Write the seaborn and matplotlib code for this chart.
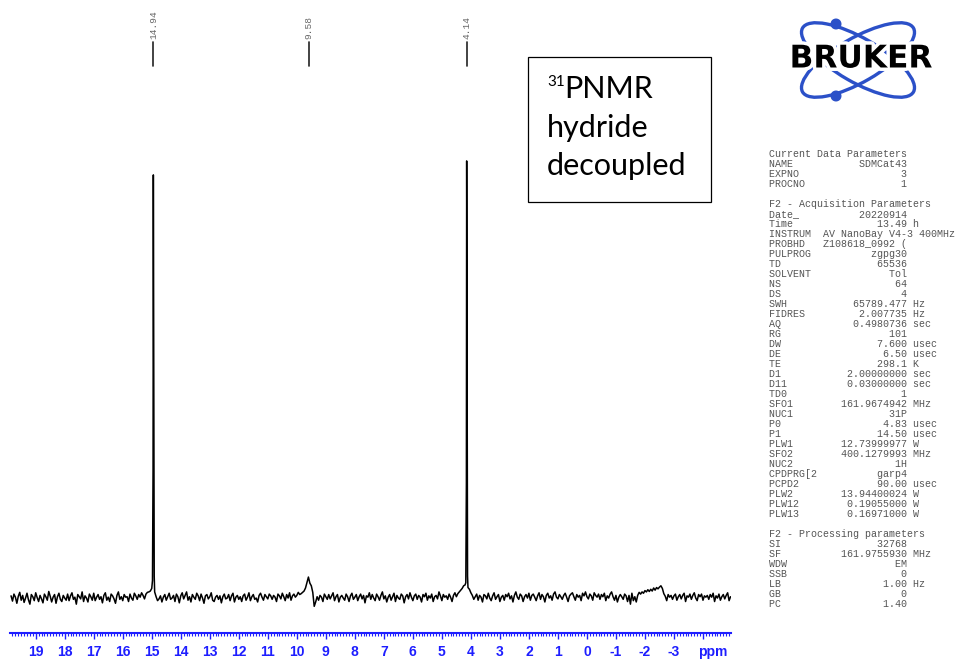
import numpy as np
import pandas as pd
import seaborn as sns
import matplotlib.pyplot as plt
import matplotlib.patheffects as pe
from matplotlib import transforms
from matplotlib.patches import Ellipse, Circle, Rectangle

# baseline of the 31P spectrum, one value every 0.05 ppm from 19.85 ppm downwards
ppm_start = 19.85
ppm_step = 0.05
baseline = [
    0.5, -0.7, 0.9, 0.2, -1.2, 0.4, 1.3, -0.5, 0.6, -1.0, 0.0, 1.1, -0.4, -1.4, 0.8, 0.3, -0.6, 1.2, 0.1, -0.8,
    0.6, -0.2, -1.1, 0.9, 0.3, -0.5, 1.5, 0.4, -0.9, 0.2, 0.8, -1.2, 0.3, 1.1, -0.3, -0.8, 0.6, 0.0, -0.5, 0.9,
    -0.6, 0.5, 1.2, -0.3, 0.2, -1.4, 0.8, 0.3, -0.2, 1.4, -0.8, 0.5, 0.0, -0.9, 0.9, 0.3, -0.5, 1.1, -0.6, 0.2,
    0.8, -0.3, 0.3, -1.1, 0.6, 1.2, -0.5, 0.2, -0.8, 0.9, 0.5, -0.2, -1.2, 0.6, 1.4, -0.3, 0.3, -0.6, 0.8, 0.2,
    0.3, -0.8, 0.9, 0.0, -0.5, 1.1, 0.5, -0.3, 0.8, 0.2, 1.2, 0.6, -0.2, 0.9, 1.3, 1.4, 1.6, 2.2, 0.0, 1.4,
    0.3, -0.6, -0.2, 0.5, -0.9, 0.2, 0.8, -0.5, 0.3, 1.1, -0.3, 0.0, 0.6, -0.8, 0.9, 0.3, -1.1, 0.5, 1.2, -0.2,
    0.6, 1.4, -0.5, 0.3, -0.9, 0.8, 0.2, -0.3, 1.1, 0.5, -0.6, 0.9, 0.0, -1.2, 0.5, 0.8, -0.2, 0.3, 1.2, -0.5,
    -0.8, 0.2, 0.6, -0.3, 0.5, -1.1, 0.3, 0.9, -0.2, 0.0, 0.8, -0.6, 0.5, 1.1, -0.9, 0.2, 0.6, -0.3, 0.3, -0.8,
    0.5, 0.9, -0.5, 0.2, 1.2, -0.6, 0.3, 0.8, -0.3, 0.0, -0.9, 0.6, 1.1, 0.2, -0.5, 0.8, 0.3, -0.2, 0.9, 0.5,
    -0.3, 0.6, 0.2, -0.8, 0.9, 0.5, -0.2, 1.1, 0.3, -0.6, 0.8, 0.0, 1.2, -0.5, 0.5, 0.9, 0.2, 0.6, 1.3, 0.8,
    1.0, 1.3, 1.6, 2.3, 3.6, 4.8, 3.4, 2.8, 1.3, -1.9, -0.9, 0.3, -0.5, 0.6, 0.2, -0.8, 0.9, 0.3, -0.3, 0.8,
    -0.2, 0.5, 1.2, -0.6, 0.3, 0.8, -0.9, 0.2, 0.6, 0.0, -0.5, 0.9, 0.3, -0.8, 0.5, 1.1, -0.3, 0.2, 0.8, -0.6,
    0.3, 0.9, -0.2, 0.6, -1.1, 0.5, 0.2, 1.2, -0.3, 0.8, 0.0, -0.6, 0.9, 0.3, -0.5, 0.6, 1.4, -0.2, 0.5, -0.9,
    0.2, 0.8, -0.5, 0.3, 1.1, -0.8, 0.6, 0.0, -0.3, 0.9, 0.5, -1.1, 0.3, 0.8, -0.2, 1.2, 0.2, -0.6, 0.5, 0.9,
    -0.3, 0.6, 0.2, -0.9, 0.8, 0.3, 1.1, -0.5, 0.5, 0.0, 0.9, -0.8, 0.3, 0.6, -0.2, 1.4, 0.5, -0.6, 0.8, 0.2,
    0.5, -0.3, 0.9, 0.2, -0.8, 0.6, 1.2, 0.3, 1.0, 1.4, 1.8, 2.2, 2.8, 3.0, 0.0, 2.4, 2.0, 1.2, 0.6, -0.3,
    0.3, 0.9, -0.5, 0.6, 0.2, -0.9, 0.8, 0.5, -0.2, 1.1, 0.0, -0.6, 0.5, 1.2, -0.3, 0.3, 0.8, -0.8, 0.2, 0.6,
    -0.5, 0.8, 0.3, 1.1, -0.2, 0.5, -0.9, 0.6, 1.4, 0.2, -0.3, 0.9, 0.5, -0.8, 0.3, 0.8, 0.0, 1.1, -0.5, 0.6,
    0.9, 0.2, -0.6, 0.5, 1.2, -0.3, 0.8, 0.3, -0.9, 0.6, 1.1, 0.0, 0.5, -0.5, 0.9, 1.4, 0.2, -0.2, 0.8, 0.3,
    -0.3, 0.6, 1.1, 0.2, -0.8, 0.5, 0.9, 1.2, 0.3, -0.5, 0.8, 0.2, 0.6, -0.6, 1.1, 0.5, 1.4, 0.3, -0.2, 0.9,
    0.5, -0.5, 1.2, 0.6, 0.2, 0.9, -0.3, 0.8, 0.3, 1.1, -0.6, 0.5, 0.0, 0.9, 1.4, 0.3, -0.5, 0.6, -0.9, 0.2,
    0.8, 0.3, -0.3, 0.9, 0.5, -0.8, 0.6, -1.4, 1.1, -0.6, 0.3, -0.9, 0.6, 1.3, 0.9, 1.4, 1.1, 1.7, 1.4, 1.9,
    1.5, 2.0, 1.6, 2.3, 1.8, 2.4, 2.1, 2.5, 2.8, 2.2, 1.0, 0.4, -0.6, 0.8, 0.2, 0.6, -0.3, 0.5, 0.9, -0.5,
    0.3, 0.8, -0.2, 0.6, 1.1, -0.8, 0.5, 0.2, 0.9, -0.3, 0.6, 1.2, 0.0, -0.6, 0.8, 0.3, 0.9, -0.5, 0.5, 0.2,
    0.6, -0.3, 0.8, 0.2, 1.1, -0.8, 0.5, 0.0, 0.9, -0.5, 0.3, 0.8, -0.2, 0.6, 1.2, -0.6, 0.3,
]

# the two sharp signals, sampled finer than the baseline
peak_centers = [14.94, 4.14]
peak_ppm = [14.975, 14.955, 14.945, 14.935, 14.915,
            4.175, 4.155, 4.145, 4.135, 4.115]
peak_int = [4.0, 29.3, 96.8, 64.8, 5.0,
            3.5, 26.3, 100.0, 68.2, 5.0]

# peak picking labels
label_ppm = [14.94, 9.58, 4.14]
label_text = ['14.94', '9.58', '4.14']

tick_values = list(range(19, -5, -1))
tick_labels = [str(v) for v in range(19, -4, -1)] + ['']

# Bruker parameter listing
current_params = [('NAME', 'SDMCat43', ''), ('EXPNO', '3', ''), ('PROCNO', '1', '')]
acq_params = [
    ('Date_', '20220914', ''), ('Time', '13.49', 'h'), ('INSTRUM', 'AV NanoBay V4-3 400MHz', ''),
    ('PROBHD', 'Z108618_0992 (', ''), ('PULPROG', 'zgpg30', ''), ('TD', '65536', ''),
    ('SOLVENT', 'Tol', ''), ('NS', '64', ''), ('DS', '4', ''), ('SWH', '65789.477', 'Hz'),
    ('FIDRES', '2.007735', 'Hz'), ('AQ', '0.4980736', 'sec'), ('RG', '101', ''),
    ('DW', '7.600', 'usec'), ('DE', '6.50', 'usec'), ('TE', '298.1', 'K'),
    ('D1', '2.00000000', 'sec'), ('D11', '0.03000000', 'sec'), ('TD0', '1', ''),
    ('SFO1', '161.9674942', 'MHz'), ('NUC1', '31P', ''), ('P0', '4.83', 'usec'),
    ('P1', '14.50', 'usec'), ('PLW1', '12.73999977', 'W'), ('SFO2', '400.1279993', 'MHz'),
    ('NUC2', '1H', ''), ('CPDPRG[2', 'garp4', ''), ('PCPD2', '90.00', 'usec'),
    ('PLW2', '13.94400024', 'W'), ('PLW12', '0.19055000', 'W'), ('PLW13', '0.16971000', 'W'),
]
proc_params = [('SI', '32768', ''), ('SF', '161.9755930', 'MHz'), ('WDW', 'EM', ''),
               ('SSB', '0', ''), ('LB', '1.00', 'Hz'), ('GB', '0', ''), ('PC', '1.40', '')]


def param_line(name, value, unit):
    line = f'{name:<9}{value:>14}'
    if unit:
        line += ' ' + unit
    return line


sns.set_style('white')
plt.rcParams['font.family'] = ['Liberation Sans', 'DejaVu Sans']
plt.rcParams['axes.unicode_minus'] = False

# build the spectrum table
grid_ppm = ppm_start - ppm_step * np.arange(len(baseline))
keep = np.all([np.abs(grid_ppm - c) > 0.035 for c in peak_centers], axis=0)
df = pd.concat([
    pd.DataFrame({'ppm': grid_ppm[keep], 'intensity': np.array(baseline)[keep]}),
    pd.DataFrame({'ppm': peak_ppm, 'intensity': peak_int}),
]).sort_values('ppm', ascending=False)

W, H = 955, 659
fig = plt.figure(figsize=(W / 100, H / 100), dpi=100)
ax = fig.add_axes([10 / W, (H - 633) / H, (731 - 10) / W, (633 - 150) / H])
sns.lineplot(data=df, x='ppm', y='intensity', sort=False, estimator=None,
             color='black', linewidth=1.1, ax=ax)
ax.set_xlim(19.886, -4.966)
ax.set_ylim(-8.0, 102.5)
ax.set_xlabel('')
ax.set_ylabel('')
ax.set_yticks([])
for side in ['left', 'top', 'right']:
    ax.spines[side].set_visible(False)
blue = '#1e1eff'
ax.spines['bottom'].set_color(blue)
ax.spines['bottom'].set_linewidth(1.5)
ax.set_xticks(tick_values)
ax.set_xticklabels(tick_labels)
ax.xaxis.set_minor_locator(plt.MultipleLocator(0.1))
ax.tick_params(axis='x', which='both', bottom=True, direction='out', color=blue)
ax.tick_params(axis='x', which='major', length=4, width=1,
               labelcolor=blue, labelsize=10, pad=5)
ax.tick_params(axis='x', which='minor', length=2.2, width=0.8)
for lab in ax.get_xticklabels():
    lab.set_fontweight('bold')
ax.patch.set_alpha(0)

# overlay in pixel coordinates for annotations
over = fig.add_axes([0, 0, 1, 1])
over.set_xlim(0, W)
over.set_ylim(H, 0)
over.axis('off')
mixed = transforms.blended_transform_factory(ax.transData, over.transData)

over.text(-4.33, 652, 'ppm', transform=mixed, ha='center', va='center',
          color=blue, fontsize=10, fontweight='bold')

for p, t in zip(label_ppm, label_text):
    over.plot([p, p], [42, 66], color='#222222', lw=1.2, transform=mixed)
    over.text(p, 39, t, transform=mixed, rotation=90, ha='center', va='bottom',
              family='Liberation Mono', fontsize=6.8, color='#666666')

# title box
over.add_patch(Rectangle((528, 57), 183, 145, fill=False, edgecolor='black', lw=0.9))
box_font = ['Lato', 'DejaVu Sans']
over.text(547, 86, '31', family=box_font, fontsize=11, va='baseline', color='black')
over.text(564, 98, 'PNMR', family=box_font, fontsize=22, va='baseline', color='black')
over.text(547, 137, 'hydride', family=box_font, fontsize=22, va='baseline', color='black')
over.text(547, 175, 'decoupled', family=box_font, fontsize=22, va='baseline', color='black')

# parameter listing
lines = ['Current Data Parameters']
lines += [param_line(*p) for p in current_params]
lines += ['', 'F2 - Acquisition Parameters']
lines += [param_line(*p) for p in acq_params]
lines += ['', 'F2 - Processing parameters']
lines += [param_line(*p) for p in proc_params]
for i, line in enumerate(lines):
    over.text(769, 154 + 10 * i, line, family='Liberation Mono', fontsize=7.2,
              color='#555555', va='center', ha='left')

# Bruker logo
logo_blue = '#2b50c8'
for ang in (30, -30):
    over.add_patch(Ellipse((858, 60), 128, 44, angle=ang, fill=False,
                           edgecolor=logo_blue, lw=2.4))
over.add_patch(Circle((836, 24), 4.8, color=logo_blue))
over.add_patch(Circle((836, 96), 4.8, color=logo_blue))
over.text(861, 59, 'BRUKER', family='DejaVu Sans', fontweight='bold', fontsize=22.5,
          ha='center', va='center', color='black',
          path_effects=[pe.withStroke(linewidth=5, foreground='white')])

fig.savefig('out.png', dpi=100)
